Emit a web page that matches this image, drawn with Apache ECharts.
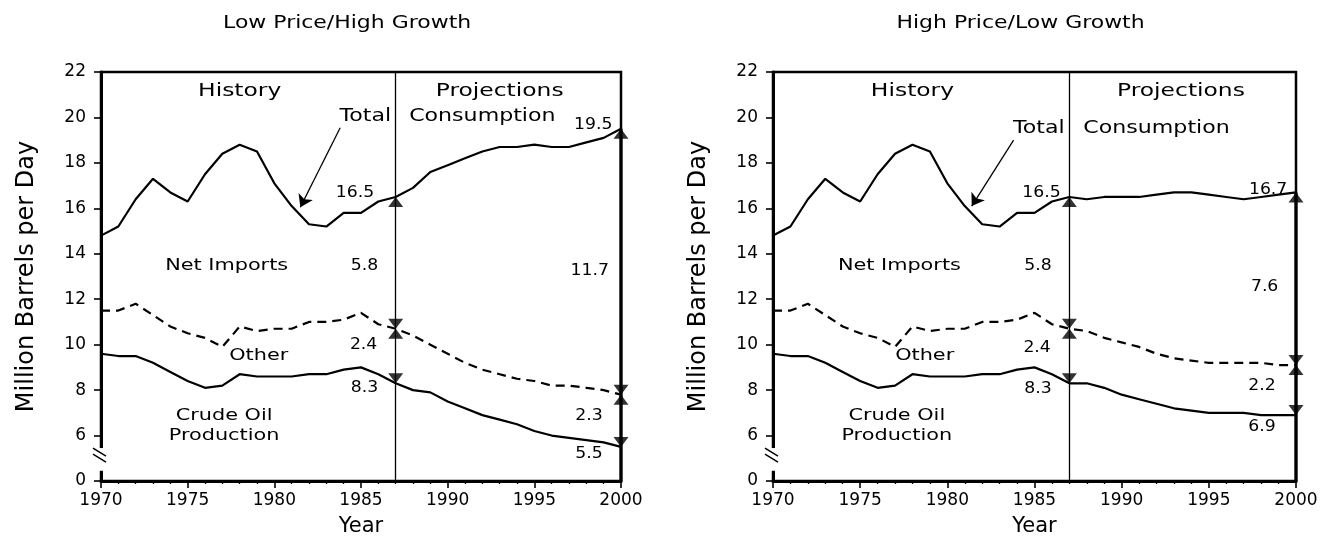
<!DOCTYPE html>
<html>
<head>
<meta charset="utf-8">
<script src="https://cdn.jsdelivr.net/npm/echarts@6/dist/echarts.min.js"></script>
<style>
  html, body { margin: 0; padding: 0; background: #fff; }
  #chart { width: 1332px; height: 542px; }
</style>
</head>
<body>
<div id="chart"></div>
<script>
// history, 1970-1987 (same in both panels)
var histYears = [1970, 1971, 1972, 1973, 1974, 1975, 1976, 1977, 1978, 1979, 1980, 1981, 1982, 1983, 1984, 1985, 1986, 1987];
var histTotal = [14.8, 15.2, 16.4, 17.3, 16.7, 16.3, 17.5, 18.4, 18.8, 18.5, 17.1, 16.1, 15.3, 15.2, 15.8, 15.8, 16.3, 16.5];
var histOther = [11.5, 11.5, 11.8, 11.3, 10.8, 10.5, 10.3, 9.9, 10.8, 10.6, 10.7, 10.7, 11.0, 11.0, 11.1, 11.4, 10.9, 10.7];
var histCrude = [9.6, 9.5, 9.5, 9.2, 8.8, 8.4, 8.1, 8.2, 8.7, 8.6, 8.6, 8.6, 8.7, 8.7, 8.9, 9.0, 8.7, 8.3];

// projections, 1988-2000
var projYears = [1988, 1989, 1990, 1991, 1992, 1993, 1994, 1995, 1996, 1997, 1998, 1999, 2000];
var lowTotal = [16.9, 17.6, 17.9, 18.2, 18.5, 18.7, 18.7, 18.8, 18.7, 18.7, 18.9, 19.1, 19.5];
var lowOther = [10.4, 10.0, 9.6, 9.2, 8.9, 8.7, 8.5, 8.4, 8.2, 8.2, 8.1, 8.0, 7.8];
var lowCrude = [8.0, 7.9, 7.5, 7.2, 6.9, 6.7, 6.5, 6.2, 6.0, 5.9, 5.8, 5.7, 5.5];
var highTotal = [16.4, 16.5, 16.5, 16.5, 16.6, 16.7, 16.7, 16.6, 16.5, 16.4, 16.5, 16.6, 16.7];
var highOther = [10.6, 10.3, 10.1, 9.9, 9.6, 9.4, 9.3, 9.2, 9.2, 9.2, 9.2, 9.1, 9.1];
var highCrude = [8.3, 8.1, 7.8, 7.6, 7.4, 7.2, 7.1, 7.0, 7.0, 7.0, 6.9, 6.9, 6.9];

var panelTitles = ['Low Price/High Growth', 'High Price/Low Growth'];
var splitYear = 1987;
var yMin = 4;      // drawn as "0" below the axis break
var yMax = 22;

var FONT = 'DejaVu Sans';

function pairs(xs, ys) {
  return xs.map(function (x, i) { return [x, ys[i]]; });
}
function last(a) { return a[a.length - 1]; }

var years = histYears.concat(projYears);
var panels = [
  { total: histTotal.concat(lowTotal), other: histOther.concat(lowOther), crude: histCrude.concat(lowCrude) },
  { total: histTotal.concat(highTotal), other: histOther.concat(highOther), crude: histCrude.concat(highCrude) }
];

var grids = [
  { left: 101, right: 711, top: 72, bottom: 58 },
  { left: 773, right: 36, top: 72, bottom: 58 }
];

var xAxes = [], yAxes = [], series = [];
panels.forEach(function (p, i) {
  grids[i].show = true;
  grids[i].borderColor = '#000';
  grids[i].borderWidth = 2.5;
  xAxes.push({
    gridIndex: i, type: 'value', min: 1970, max: 2000, interval: 5,
    name: 'Year', nameLocation: 'middle', nameGap: 35,
    nameTextStyle: { fontFamily: FONT, fontSize: 21, color: '#000' },
    axisLine: { lineStyle: { color: '#000', width: 3 } },
    axisTick: { length: 7, lineStyle: { color: '#000', width: 1.6 } },
    minorTick: { show: true, splitNumber: 5, length: 3, lineStyle: { color: '#000', width: 1.3 } },
    splitLine: { show: false },
    axisLabel: {
      fontFamily: FONT, fontSize: 17, color: '#000', margin: 11,
      formatter: function (v) { return String(v); }
    }
  });
  yAxes.push({
    gridIndex: i, type: 'value', min: yMin, max: yMax, interval: 2,
    name: 'Million Barrels per Day', nameLocation: 'middle', nameGap: 62,
    nameTextStyle: { fontFamily: FONT, fontSize: 24, color: '#000' },
    axisLine: { lineStyle: { color: '#000', width: 3 } },
    axisTick: { length: 7, lineStyle: { color: '#000', width: 1.6 } },
    splitLine: { show: false },
    axisLabel: {
      fontFamily: FONT, fontSize: 17, color: '#000', margin: 15,
      formatter: function (v) { return v === yMin ? '0' : String(v); }
    }
  });

  var base = { xAxisIndex: i, yAxisIndex: i, type: 'line', showSymbol: false, silent: true };
  series.push(Object.assign({}, base, {
    data: pairs(years, p.total), lineStyle: { color: '#000', width: 2.2 }
  }));
  series.push(Object.assign({}, base, {
    data: pairs(years, p.other), lineStyle: { color: '#000', width: 2.2, type: [9, 6] }
  }));
  series.push(Object.assign({}, base, {
    data: pairs(years, p.crude), lineStyle: { color: '#000', width: 2.2 }
  }));

  // dimension line at 2000, divider at 1987 and the "Total" pointer
  var endTotal = last(p.total);
  series.push(Object.assign({}, base, {
    clip: false, z: 3,
    data: [[2000, yMin], [2000, endTotal]],
    lineStyle: { color: '#000', width: 3.2 },
    markLine: {
      silent: true, animation: false, label: { show: false },
      data: [
        [{ coord: [splitYear, yMin], symbol: 'none' }, { coord: [splitYear, yMax], symbol: 'none' }],
        [{ coord: [1983.8, i === 0 ? 19.55 : 19.0], symbol: 'none' },
         { coord: [i === 0 ? 1981.5 : 1981.4, i === 0 ? 16.05 : 16.1], symbol: 'arrow', symbolSize: 12 }]
      ],
      lineStyle: { color: '#000', width: 1.3, type: 'solid' }
    }
  }));

  var k = histYears.length - 1;
  var ups = [[splitYear, p.total[k]], [splitYear, p.other[k]], [2000, endTotal], [2000, last(p.other)]];
  var downs = [[splitYear, p.other[k]], [splitYear, p.crude[k]], [2000, last(p.other)], [2000, last(p.crude)]];
  series.push({
    type: 'scatter', xAxisIndex: i, yAxisIndex: i, silent: true, clip: false, z: 5,
    symbol: 'triangle', symbolSize: [15, 10], symbolOffset: [0, 5],
    itemStyle: { color: '#000' }, data: ups
  });
  series.push({
    type: 'scatter', xAxisIndex: i, yAxisIndex: i, silent: true, clip: false, z: 5,
    symbol: 'triangle', symbolSize: [15, 10], symbolOffset: [0, -5], symbolRotate: 180,
    itemStyle: { color: '#000' }, data: downs
  });
});

var chart = echarts.init(document.getElementById('chart'));
chart.setOption({
  animation: false,
  backgroundColor: '#fff',
  grid: grids,
  xAxis: xAxes,
  yAxis: yAxes,
  series: series
});

// text annotations, placed in data coordinates
function fmt(v) { return v.toFixed(1); }
var notes = panels.map(function (p, i) {
  var k = histYears.length - 1;
  var t0 = p.total[k], o0 = p.other[k], c0 = p.crude[k];
  var t1 = last(p.total), o1 = last(p.other), c1 = last(p.crude);
  var L = i === 0;
  return [
    { text: 'History', at: [1978.0, 21.13], size: 18 },
    { text: 'Projections', at: [L ? 1993.0 : 1993.4, 21.14], size: 18 },
    { text: 'Total', at: [1985.25, L ? 20.05 : 19.53], size: 17 },
    { text: 'Consumption', at: [1992.0, L ? 20.05 : 19.53], size: 17 },
    { text: 'Net Imports', at: [1977.25, 13.45], size: 16 },
    { text: 'Other', at: [L ? 1979.1 : 1978.7, 9.5], size: 16 },
    { text: 'Crude Oil\nProduction', at: [1977.1, 6.44], size: 16 },
    { text: fmt(t0), at: [L ? 1984.65 : 1985.4, 16.68], size: 15, num: true },
    { text: fmt(t0 - o0), at: [1985.2, 13.45], size: 15, num: true },
    { text: fmt(o0 - c0), at: [1985.15, L ? 9.99 : 9.86], size: 15, num: true },
    { text: fmt(c0), at: [1985.2, L ? 8.1 : 8.03], size: 15, num: true },
    { text: fmt(t1), at: [1998.4, L ? 19.65 : 16.79], size: 15, num: true },
    { text: fmt(t1 - o1), at: [1998.2, L ? 13.23 : 12.54], size: 15, num: true },
    { text: fmt(o1 - c1), at: [L ? 1998.15 : 1998.05, L ? 6.87 : 8.16], size: 15, num: true },
    { text: fmt(c1), at: [L ? 1998.15 : 1998.05, L ? 5.17 : 6.38], size: 15, num: true }
  ];
});

var graphics = [];
panels.forEach(function (p, i) {
  var ref = { gridIndex: i };
  notes[i].forEach(function (n) {
    var pt = chart.convertToPixel(ref, n.at);
    graphics.push({
      type: 'text', x: pt[0], y: pt[1], scaleX: n.num ? 1.15 : 1.3, z: 100, silent: true,
      style: {
        text: n.text, fontFamily: FONT, fontSize: n.size, fill: '#000',
        align: 'center', verticalAlign: 'middle', lineHeight: 20
      }
    });
  });
  // panel title
  var tp = chart.convertToPixel(ref, [1984.2, yMax]);
  graphics.push({
    type: 'text', x: tp[0], y: 23, scaleX: 1.22, z: 100, silent: true,
    style: { text: panelTitles[i], fontFamily: FONT, fontSize: 18, fill: '#000', align: 'center', verticalAlign: 'middle' }
  });
  // axis break between the "0" tick and 6
  var a = chart.convertToPixel(ref, [1970, 5.45]);
  var b = chart.convertToPixel(ref, [1970, 4.45]);
  graphics.push({
    type: 'rect', z: 100, silent: true,
    shape: { x: a[0] - 4, y: a[1], width: 8, height: b[1] - a[1] },
    style: { fill: '#fff' }
  });
  [0, 6].forEach(function (d) {
    graphics.push({
      type: 'line', z: 101, silent: true,
      shape: { x1: a[0] - 8, y1: a[1] + d, x2: a[0] + 5, y2: a[1] + d + 8 },
      style: { stroke: '#000', lineWidth: 1.5 }
    });
  });
});
chart.setOption({ graphic: graphics });
</script>
</body>
</html>
